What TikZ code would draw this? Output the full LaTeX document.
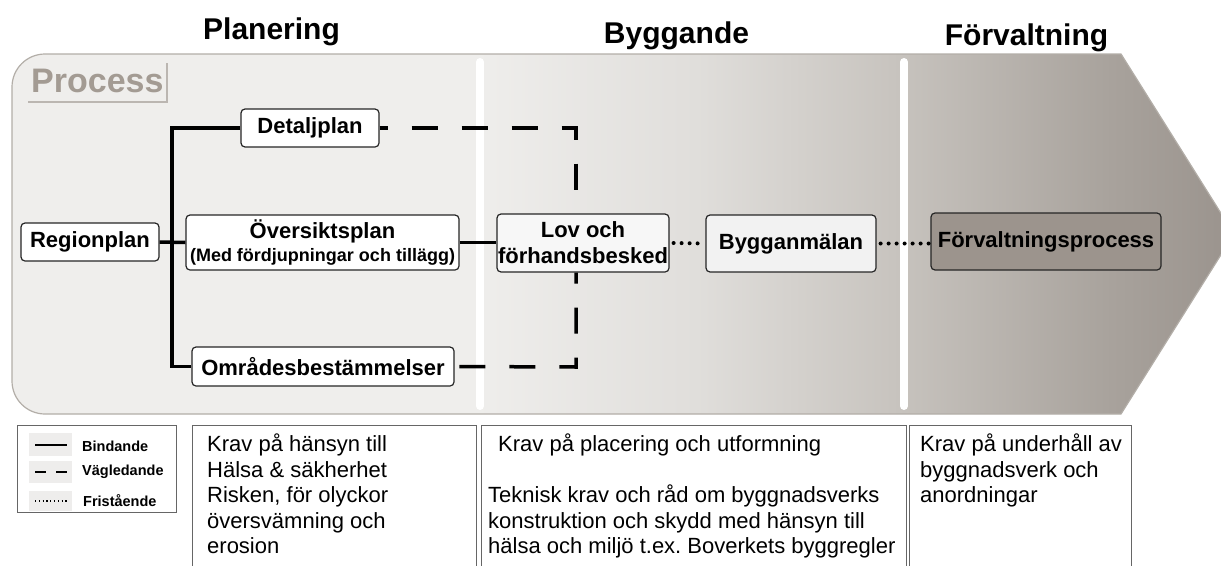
\documentclass[tikz,border=0pt]{standalone}
\usepackage{fontspec}
\setmainfont{Liberation Sans}
\usetikzlibrary{calc}

\definecolor{procLight}{HTML}{EFEEEC}
\definecolor{procMid}{HTML}{E0DEDB}
\definecolor{procDeep}{HTML}{C8C4BF}
\definecolor{procDark}{HTML}{A8A29C}
\definecolor{procEnd}{HTML}{9A938D}
\definecolor{procRim}{HTML}{B3AEA8}
\definecolor{procLabel}{HTML}{A39B93}
\definecolor{mgmtFill}{HTML}{9C948D}
\definecolor{swatchGray}{HTML}{EEEDEC}

% light on the planning side, darkening towards the arrow tip
\pgfdeclarehorizontalshading{procshade}{100bp}{%
  color(0bp)=(procLight); color(44bp)=(procLight); color(53bp)=(procMid);
  color(61bp)=(procDeep); color(70bp)=(procDark); color(75bp)=(procEnd);
  color(100bp)=(procEnd)}

\tikzset{
  box/.style={draw=black!85, line width=1.2pt, rounded corners=4pt, fill=white,
    inner sep=0pt, align=center, font=\fontsize{22}{26}\selectfont\bfseries},
  bind/.style={line width=3.5pt},
  guide/.style={line width=3.5pt, dash pattern=on 26pt off 24pt},
  free/.style={line width=4pt, line cap=round, dash pattern=on 0pt off 8pt},
  header/.style={font=\fontsize{30}{34}\selectfont\bfseries, anchor=base, inner sep=0pt},
  divider/.style={white, line width=8pt, line cap=round},
  cell/.style={draw=black!60, line width=1.2pt, inner sep=0pt, fill=white},
  bodytext/.style={font=\fontsize{22}{25.5}\selectfont, align=left, anchor=north west, inner sep=0pt},
  legtext/.style={font=\fontsize{14.5}{16}\selectfont\bfseries, anchor=west, inner sep=0pt},
}

\begin{document}
\begin{tikzpicture}[x=1pt, y=-1pt]
\useasboundingbox (0,0) rectangle (1221,565);
\fill[white] (0,0) rectangle (1221,565);

% phase headings
\node[header] (hPlan) at (271.5,39) {Planering};
\node[header] (hBygg) at (676.5,43) {Byggande};
\node[header] (hForv) at (1026.5,45) {Förvaltning};

% process arrow
\shadedraw[shading=procshade, draw=procRim, line width=1.2pt]
  (12,234) [rounded corners=33pt] -- (12,54) -- (600,54)
  [sharp corners] -- (1121,54) -- (1234,234) -- (1121,414) -- (600,414)
  [rounded corners=33pt] -- (12,414) -- cycle;

\node[anchor=base west, inner sep=0pt, text=procLabel,
  font=\fontsize{34}{38}\selectfont\bfseries] (proc) at (31,92) {Process};
\draw[procRim!90, line width=2.5pt] (28,102) -- (167,102) -- (167,63);

% phase dividers
\draw[divider] (480,62) -- (480,406);
\draw[divider] (904,62) -- (904,406);

% plan documents
\node[box, minimum width=138, minimum height=38] (region) at (90,242) {Regionplan};
\node[box, minimum width=138, minimum height=38] (detalj) at (310,128) {Detaljplan};
\node[box, minimum width=273, minimum height=55] (oversikt) at (322.5,242.5)
  {Översiktsplan\\[-3pt]{\fontsize{18}{20}\selectfont(Med fördjupningar och tillägg)}};
\node[box, minimum width=262, minimum height=39] (omrade) at (323,366.5) {Områdesbestämmelser};
\node[box, minimum width=172, minimum height=58, fill=white!97!black] (lov) at (583,243)
  {Lov och\\förhandsbesked};
\node[box, minimum width=170, minimum height=57, fill=white!95!black] (anmalan) at (791,243.5) {Bygganmälan};
\node[box, minimum width=230, minimum height=57, fill=mgmtFill] (forvalt) at (1046,241.5) {Förvaltningsprocess};

% binding links
\coordinate (trunk) at (172,242);
\draw[bind] (detalj.west) -| (trunk) |- (omrade.west);
\draw[bind] (region.east) -- (oversikt.west);
\draw[bind] (oversikt.east) -- (oversikt.east -| lov.west);

% guiding links
\coordinate (gTop) at (576,128);
\coordinate (gBot) at (576,367);
\draw[guide, dash phase=18pt] (detalj.east) -- (gTop) -- (gTop |- lov.north);
\draw[guide, dash phase=15pt] (gTop |- lov.south) -- (gBot) -- (omrade.east);

% free-standing links
\draw[free] ([xshift=4pt]lov.east) -- (anmalan.west);
\draw[free] ([xshift=4pt]anmalan.east) -- (anmalan.east -| forvalt.west);

% legend
\node[cell, minimum width=159, minimum height=87, anchor=north west] (legend) at (17,425) {};
\fill[swatchGray] (29,433) rectangle (72,456);
\fill[swatchGray] (29,461) rectangle (72,483);
\fill[swatchGray] (29,491) rectangle (72,511);
\draw[line width=1.5pt] (35,445) -- (67,445);
\draw[line width=2pt, dash pattern=on 11pt off 10pt] (35,472) -- (67,472);
\draw[line width=1.3pt, dash pattern=on 1.2pt off 2.6pt] (35,501) -- (68,501);
\node[legtext] (lBind) at (82,446.5) {Bindande};
\node[legtext] (lVag) at (82,471.5) {Vägledande};
\node[legtext] (lFri) at (83,501) {Fristående};

% requirement cells (open towards the page bottom)
\node[cell, minimum width=284, minimum height=160, anchor=north west] (reqPlan) at (192,425) {};
\node[cell, minimum width=425, minimum height=160, anchor=north west] (reqBygg) at (481,425) {};
\node[cell, minimum width=222, minimum height=160, anchor=north west] (reqForv) at (909,425) {};

\node[bodytext] (tPlan) at ($(reqPlan.north west)+(15,9)$)
  {Krav på hänsyn till\\Hälsa \& säkherhet\\Risken, för olyckor\\översvämning och\\erosion};
\node[bodytext] (tBygg) at ($(reqBygg.north west)+(17,9)$) {Krav på placering och utformning};
\node[bodytext] (tTeknik) at ($(reqBygg.north west)+(7,60)$)
  {Teknisk krav och råd om byggnadsverks\\konstruktion och skydd med hänsyn till\\hälsa och miljö t.ex.\ Boverkets byggregler};
\node[bodytext] (tForv) at ($(reqForv.north west)+(11,9)$)
  {Krav på underhåll av\\byggnadsverk och\\anordningar};
\end{tikzpicture}
\end{document}
